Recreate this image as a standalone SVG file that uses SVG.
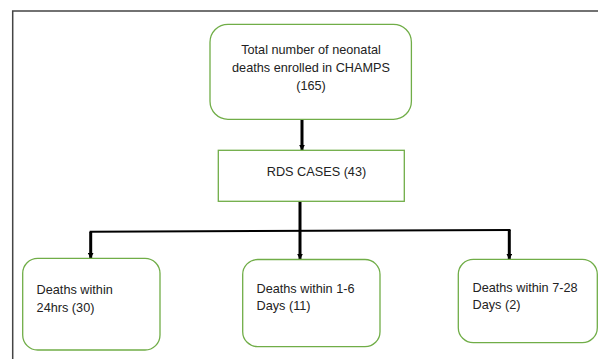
<svg xmlns="http://www.w3.org/2000/svg" width="598" height="359" viewBox="0 0 598 359">
<style>
.node{fill:#fff;stroke:#70AD47;stroke-width:1.3}
.t{font-family:"Liberation Sans",Arial,sans-serif;font-size:12.7px;fill:#222}
.c{text-anchor:middle}
.conn{stroke:#000;fill:none;stroke-linecap:butt}
</style>
<defs>
<marker id="ah" viewBox="0 0 10 10" refX="9" refY="5" markerWidth="2" markerHeight="2" orient="auto" markerUnits="strokeWidth">
<path d="M0,0 L10,5 L0,10 z" fill="#000"/>
</marker>
</defs>
<rect x="0" y="0" width="598" height="359" fill="#fff"/>
<path d="M12.7,370 V11 H610" fill="none" stroke="#444" stroke-width="1.5"/>
<g id="connectors">
<line class="conn" x1="302" y1="119" x2="302" y2="150" stroke-width="3" marker-end="url(#ah)"/>
<line class="conn" x1="300" y1="201" x2="300" y2="259" stroke-width="3" marker-end="url(#ah)"/>
<line class="conn" x1="89.7" y1="231.7" x2="510.5" y2="230" stroke-width="2"/>
<line class="conn" x1="90.7" y1="231.7" x2="90.7" y2="258" stroke-width="3" marker-end="url(#ah)"/>
<line class="conn" x1="509.3" y1="230" x2="509.3" y2="259" stroke-width="3" marker-end="url(#ah)"/>
</g>
<g id="total">
<rect class="node" x="210" y="24.3" width="201.4" height="95" rx="18" ry="18"/>
<text class="t c" x="311" y="53.5">Total number of neonatal</text>
<text class="t c" x="311" y="71.5">deaths enrolled in CHAMPS</text>
<text class="t c" x="311" y="90">(165)</text>
</g>
<g id="rds">
<rect class="node" x="218.3" y="150.3" width="186" height="51"/>
<text class="t c" x="316.5" y="175.5">RDS CASES (43)</text>
</g>
<g id="d24">
<rect class="node" x="22.7" y="258.3" width="137.3" height="91.7" rx="15" ry="15"/>
<text class="t" x="36.6" y="293.5">Deaths within</text>
<text class="t" x="36.6" y="311.5">24hrs (30)</text>
</g>
<g id="d16">
<rect class="node" x="242.7" y="259.5" width="137.3" height="87.2" rx="15" ry="15"/>
<text class="t" x="256.5" y="292.5">Deaths within 1-6</text>
<text class="t" x="256.5" y="310">Days (11)</text>
</g>
<g id="d728">
<rect class="node" x="458.3" y="259.3" width="139" height="83.4" rx="15" ry="15"/>
<text class="t" x="472.5" y="291.5">Deaths within 7-28</text>
<text class="t" x="472.5" y="309">Days (2)</text>
</g>
</svg>
